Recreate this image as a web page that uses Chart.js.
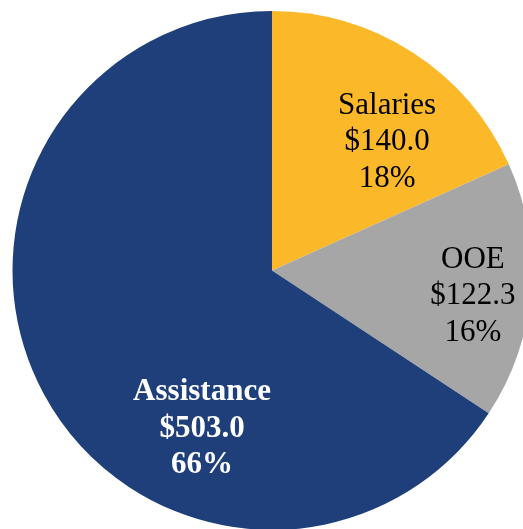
<!DOCTYPE html>
<html>
<head>
<meta charset="utf-8">
<script src="https://cdn.jsdelivr.net/npm/chart.js@4/dist/chart.umd.min.js"></script>
<style>
    html, body {
        margin: 0;
        padding: 0;
        background: #ffffff;
        overflow: hidden;
        width: 523px;
        height: 529px;
    }
    #chart-wrap {
        position: absolute;
        left: 0;
        top: 11px;
        width: 544px;
        height: 519px;
    }
</style>
</head>
<body>
<div id="chart-wrap">
    <canvas id="budgetChart"></canvas>
</div>
<script>
// Data
const categories = ['Salaries', 'OOE', 'Assistance'];
const amounts = [140.0, 122.3, 503.0];
const sliceColors = ['#FBB829', '#A6A6A6', '#1F3F7A'];

// Label styling (angle in degrees clockwise from top, radius as fraction of outer radius)
const labelAngles = [43.7, 99.5, 202.8];
const labelRadii = [0.642, 0.785, 0.696];
const labelColors = ['#000000', '#000000', '#ffffff'];
const labelBold = [false, false, true];

const total = amounts.reduce((a, b) => a + b, 0);

// Draws the three-line labels inside each slice
const sliceLabels = {
    id: 'sliceLabels',
    afterDatasetsDraw(chart) {
        const ctx = chart.ctx;
        const meta = chart.getDatasetMeta(0);

        meta.data.forEach((arc, i) => {
            const angle = labelAngles[i] * Math.PI / 180;
            const r = arc.outerRadius * labelRadii[i];
            const x = arc.x + Math.sin(angle) * r;
            const y = arc.y - Math.cos(angle) * r;

            const lines = [
                categories[i],
                '$' + amounts[i].toFixed(1),
                Math.round(amounts[i] / total * 100) + '%'
            ];

            ctx.save();
            ctx.fillStyle = labelColors[i];
            ctx.font = (labelBold[i] ? 'bold ' : '') + '31px "Liberation Serif", "Times New Roman", serif';
            ctx.textAlign = 'center';
            ctx.textBaseline = 'alphabetic';
            lines.forEach((line, n) => {
                ctx.fillText(line, x, y + (n - 1) * 36.5);
            });
            ctx.restore();
        });
    }
};

const ctx = document.getElementById('budgetChart').getContext('2d');

new Chart(ctx, {
    type: 'pie',
    data: {
        labels: categories,
        datasets: [{
            data: amounts,
            backgroundColor: sliceColors,
            borderWidth: 0
        }]
    },
    options: {
        responsive: true,
        maintainAspectRatio: false,
        animation: false,
        layout: {
            padding: 0
        },
        plugins: {
            legend: { display: false },
            tooltip: { enabled: false }
        }
    },
    plugins: [sliceLabels]
});
</script>
</body>
</html>
